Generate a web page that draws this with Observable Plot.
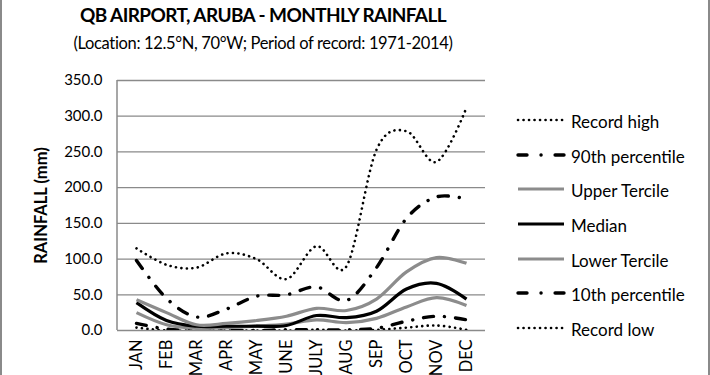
<!DOCTYPE html>
<html><head><meta charset="utf-8">
<script src="https://cdn.jsdelivr.net/npm/d3@7"></script>
<script src="https://cdn.jsdelivr.net/npm/@observablehq/plot@0.6"></script>
<style>
html,body{margin:0;padding:0;background:#fff;}
#wrap{position:relative;width:710px;height:375px;box-sizing:border-box;border-left:2px solid #8a8a8a;border-right:2px solid #8a8a8a;font-family:Lato,"Open Sans",sans-serif;overflow:hidden;}
#title{position:absolute;left:0;width:522px;top:3px;text-align:center;font-weight:bold;font-size:19px;letter-spacing:-0.6px;color:#000;}
#sub{position:absolute;left:0;width:522px;top:33px;text-align:center;font-size:16.5px;letter-spacing:-0.35px;color:#000;}
#chart{position:absolute;left:-2px;top:70px;}
#legend{position:absolute;left:0;top:0;}
</style></head>
<body><div id="wrap">
<div id="title">QB AIRPORT, ARUBA - MONTHLY RAINFALL</div>
<div id="sub">(Location: 12.5°N, 70°W; Period of record: 1971-2014)</div>
<div id="chart"></div>
<svg id="legend" width="706" height="375"></svg>
</div>
<script>
const months = ["JAN","FEB","MAR","APR","MAY","JUNE","JULY","AUG","SEP","OCT","NOV","DEC"];
const yTicks = [0,50,100,150,200,250,300,350];
const seriesNames = ["Record high","90th percentile","Upper Tercile","Median","Lower Tercile","10th percentile","Record low"];
const recordHigh   = [115, 92, 88, 108, 100, 72, 118, 90, 253, 279, 236, 312];
const p90          = [98, 45, 19, 30, 48, 50, 61, 42, 88, 157, 187, 184];
const upperTercile = [43, 25, 8, 10, 14, 20, 31, 28, 44, 82, 102, 94];
const median       = [39, 14, 6, 6, 6, 7, 21, 18, 27, 58, 66, 44];
const lowerTercile = [25, 8, 3, 4, 6, 9, 15, 11, 17, 33, 46, 35];
const p10          = [10, 2, 0, 0, 0, 1, 1, 1, 3, 13, 20, 15];
const recordLow    = [4, 0, 0, 0, 0, 0, 1, 0, 1, 4, 7, 1];

const allSeries = [recordHigh,p90,upperTercile,median,lowerTercile,p10,recordLow];
const styles = {
  "Record high":    {stroke:"#000", w:2.6, dash:"0.1,5.4"},
  "90th percentile":{stroke:"#000", w:3.4, dash:"10,11,0.1,11"},
  "Upper Tercile":  {stroke:"#8c8c8c", w:3.2, dash:null},
  "Median":         {stroke:"#000", w:3.2, dash:null},
  "Lower Tercile":  {stroke:"#8c8c8c", w:3.2, dash:null},
  "10th percentile":{stroke:"#000", w:3.4, dash:"10,11,0.1,11"},
  "Record low":     {stroke:"#000", w:2.6, dash:"0.1,5.4"}
};
const rows = [];
seriesNames.forEach((s,i)=>allSeries[i].forEach((v,j)=>rows.push({series:s, month:months[j], value:v})));

const curve = d3.curveCardinal.tension(0);
const lineMarks = seriesNames.slice().reverse().map(s=>{
  const st = styles[s];
  return Plot.line(rows.filter(d=>d.series===s), {x:"month", y:"value", curve,
    stroke:st.stroke, strokeWidth:st.w, strokeDasharray:st.dash||undefined,
    strokeLinecap: st.dash ? "round" : "butt", strokeLinejoin:"round", clip:true});
});

const plot = Plot.plot({
  width: 500, height: 305,
  marginLeft: 117, marginRight: 15, marginTop: 10, marginBottom: 45,
  style:{fontFamily:"Lato, 'Open Sans', sans-serif", background:"transparent", color:"#000"},
  x:{type:"point", domain: months, padding:0.5},
  y:{domain:[0,350]},
  marks:[
    Plot.gridY(yTicks.filter(t=>t>0), {stroke:"#8a8a8a", strokeOpacity:1, strokeWidth:1.3}),
    Plot.ruleY([0], {stroke:"#8a8a8a", strokeWidth:1.5}),
    ...lineMarks,
    Plot.axisY(yTicks, {tickSize:0, tickPadding:15, tickFormat:d3.format(".1f"), fontSize:15, label:null}),
    Plot.axisX({tickSize:0, tickPadding:9, tickRotate:-90, fontSize:16.5, label:null}),
    Plot.text(["RAINFALL (mm)"], {frameAnchor:"left", textAnchor:"middle", dx:-76, rotate:-90, fontSize:16.5, fontWeight:"bold"})
  ]
});
document.getElementById("chart").appendChild(plot);
// y axis line
const svgP = d3.select(plot);
svgP.append("line").attr("x1",117).attr("x2",117).attr("y1",10).attr("y2",260).attr("stroke","#8a8a8a").attr("stroke-width",1.5);

// legend
const lg = d3.select("#legend");
const ys = [122,157,191,226,261,295,330];
seriesNames.forEach((s,i)=>{
  const st = styles[s];
  const y = ys[i]-2;
  const ln = lg.append("line").attr("x1",516).attr("x2",562).attr("y1",y).attr("y2",y)
    .attr("stroke",st.stroke).attr("stroke-width",st.w).attr("stroke-linecap", st.dash?"round":"butt");
  if (st.dash) ln.attr("stroke-dasharray", s.includes("percentile") ? "9,14,0.1,14" : "0.1,5.4");
  lg.append("text").attr("x",569).attr("y",ys[i]).attr("dy","0.35em").attr("font-size",17)
    .attr("font-family","Lato, 'Open Sans', sans-serif").text(s);
});
</script>
</body></html>
